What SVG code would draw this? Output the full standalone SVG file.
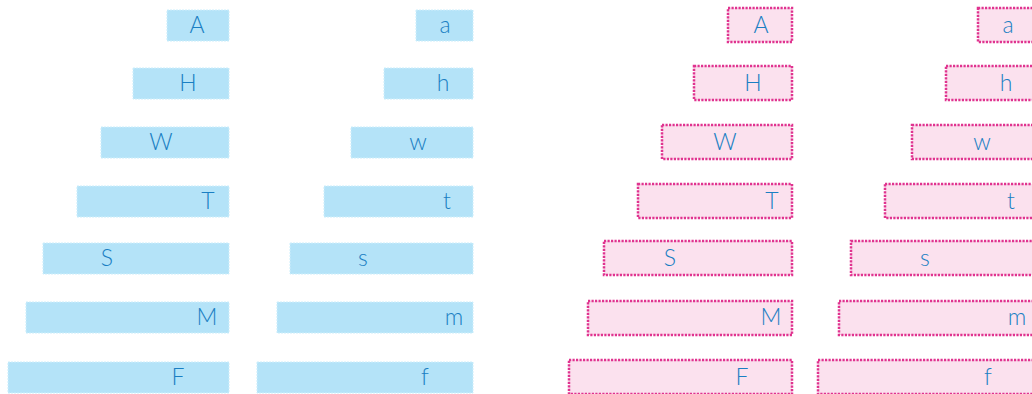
<svg xmlns="http://www.w3.org/2000/svg" width="1032" height="394" viewBox="0 0 1032 394">
<style>
.b{fill:#b4e3f8;stroke:#cdeefb;stroke-width:1;stroke-dasharray:2 1}
.p{fill:#fbe1ee;stroke:#e0338f;stroke-width:2.5;stroke-dasharray:2.2 1.3}
text{font-family:"Lato","Open Sans","Liberation Sans",sans-serif;font-weight:300;font-size:23px;fill:#1a7fc3;text-anchor:middle}
</style>
<rect width="1032" height="394" fill="#ffffff"/>
<g id="blue-upper">
<g id="bA"><rect class="b" x="167" y="10" width="62" height="31"/><text x="197" y="33">A</text></g>
<g id="bH"><rect class="b" x="133" y="68" width="96" height="31"/><text x="188" y="91">H</text></g>
<g id="bW"><rect class="b" x="101" y="127" width="128" height="31"/><text x="161" y="150">W</text></g>
<g id="bT"><rect class="b" x="77" y="186" width="152" height="31"/><text x="208" y="209">T</text></g>
<g id="bS"><rect class="b" x="43" y="243" width="186" height="31"/><text x="107" y="266">S</text></g>
<g id="bM"><rect class="b" x="26" y="302" width="203" height="31"/><text x="207" y="325">M</text></g>
<g id="bF"><rect class="b" x="8" y="362" width="221" height="31"/><text x="178" y="385">F</text></g>
</g>
<g id="blue-lower">
<g id="ba"><rect class="b" x="416" y="10" width="57" height="31"/><text x="445" y="33">a</text></g>
<g id="bh"><rect class="b" x="384" y="68" width="89" height="31"/><text x="443" y="91">h</text></g>
<g id="bw"><rect class="b" x="351" y="127" width="122" height="31"/><text x="418" y="150">w</text></g>
<g id="bt"><rect class="b" x="324" y="186" width="149" height="31"/><text x="447" y="209">t</text></g>
<g id="bs"><rect class="b" x="290" y="243" width="183" height="31"/><text x="363" y="266">s</text></g>
<g id="bm"><rect class="b" x="277" y="302" width="196" height="31"/><text x="454" y="325">m</text></g>
<g id="bf"><rect class="b" x="257" y="362" width="216" height="31"/><text x="425" y="385">f</text></g>
</g>
<g id="pink-upper">
<g id="pA"><rect class="p" x="728" y="8" width="64" height="34"/><text x="761" y="33">A</text></g>
<g id="pH"><rect class="p" x="694" y="66" width="98" height="34"/><text x="753" y="91">H</text></g>
<g id="pW"><rect class="p" x="662" y="125" width="130" height="34"/><text x="725" y="150">W</text></g>
<g id="pT"><rect class="p" x="638" y="184" width="154" height="34"/><text x="772" y="209">T</text></g>
<g id="pS"><rect class="p" x="604" y="241" width="188" height="34"/><text x="670" y="266">S</text></g>
<g id="pM"><rect class="p" x="588" y="301" width="204" height="34"/><text x="771" y="325">M</text></g>
<g id="pF"><rect class="p" x="569" y="360" width="223" height="34"/><text x="742" y="385">F</text></g>
</g>
<g id="pink-lower">
<g id="pa"><rect class="p" x="978" y="8" width="58" height="34"/><text x="1008" y="33">a</text></g>
<g id="ph"><rect class="p" x="946" y="66" width="90" height="34"/><text x="1006" y="91">h</text></g>
<g id="pw"><rect class="p" x="912" y="125" width="124" height="34"/><text x="982" y="150">w</text></g>
<g id="pt"><rect class="p" x="885" y="184" width="151" height="34"/><text x="1011" y="209">t</text></g>
<g id="ps"><rect class="p" x="851" y="241" width="185" height="34"/><text x="925" y="266">s</text></g>
<g id="pm"><rect class="p" x="839" y="301" width="197" height="34"/><text x="1017" y="325">m</text></g>
<g id="pf"><rect class="p" x="818" y="360" width="218" height="34"/><text x="988" y="385">f</text></g>
</g>
<g id="connectors"/>
</svg>
